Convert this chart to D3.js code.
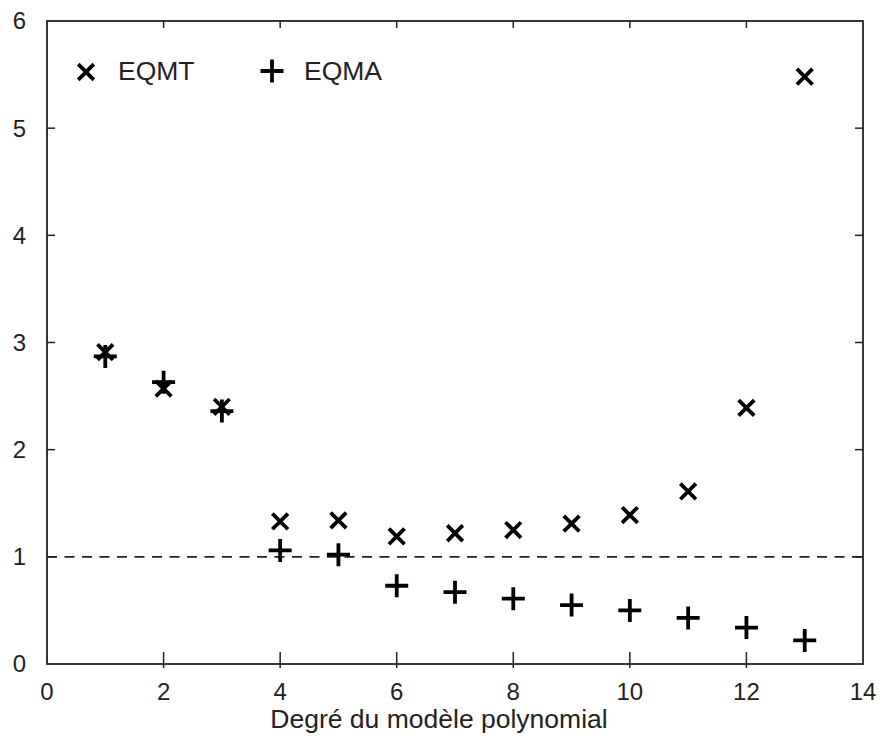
<!DOCTYPE html>
<html>
<head>
<meta charset="utf-8">
<script src="https://cdn.jsdelivr.net/npm/d3@7"></script>
<style>
  body { margin: 0; background: #fff; }
  text { font-family: "Liberation Sans", Arial, sans-serif; fill: #222; }
</style>
</head>
<body>
<script>
const degres = [1, 2, 3, 4, 5, 6, 7, 8, 9, 10, 11, 12, 13];
const eqmt = [2.91, 2.57, 2.40, 1.33, 1.34, 1.19, 1.22, 1.25, 1.31, 1.39, 1.61, 2.39, 5.48];
const eqma = [2.87, 2.63, 2.36, 1.06, 1.02, 0.73, 0.67, 0.61, 0.55, 0.50, 0.43, 0.34, 0.22];
const xTicks = [0, 2, 4, 6, 8, 10, 12, 14];
const yTicks = [0, 1, 2, 3, 4, 5, 6];
const seuil = 1;

const W = 880, H = 740;
const pL = 47, pR = 863, pT = 21, pB = 664;

const svg = d3.select("body").append("svg")
    .attr("width", W)
    .attr("height", H);

const x = d3.scaleLinear().domain([0, 14]).range([pL, pR]);
const y = d3.scaleLinear().domain([0, 6]).range([pB, pT]);

// ticks (inward, on all four sides)
const tk = svg.append("g").attr("stroke", "#222").attr("stroke-width", 1.5);
xTicks.slice(1, -1).forEach(t => {
    tk.append("line").attr("x1", x(t)).attr("x2", x(t)).attr("y1", pB + 4).attr("y2", pB - 12);
    tk.append("line").attr("x1", x(t)).attr("x2", x(t)).attr("y1", pT).attr("y2", pT + 7);
});
yTicks.slice(1, -1).forEach(t => {
    tk.append("line").attr("x1", pL).attr("x2", pL + 8).attr("y1", y(t)).attr("y2", y(t));
    tk.append("line").attr("x1", pR).attr("x2", pR - 8).attr("y1", y(t)).attr("y2", y(t));
});

// frame
svg.append("rect")
    .attr("x", pL).attr("y", pT)
    .attr("width", pR - pL).attr("height", pB - pT)
    .attr("fill", "none").attr("stroke", "#222").attr("stroke-width", 1.8);

// tick labels
svg.append("g").selectAll("text").data(xTicks).join("text")
    .attr("x", d => x(d)).attr("y", 700)
    .attr("text-anchor", "middle")
    .attr("font-size", 24)
    .text(d => d);

svg.append("g").selectAll("text").data(yTicks).join("text")
    .attr("x", 26).attr("y", d => y(d))
    .attr("dy", "0.35em")
    .attr("text-anchor", "end")
    .attr("font-size", 24)
    .text(d => d);

svg.append("text")
    .attr("x", 439).attr("y", 728)
    .attr("text-anchor", "middle")
    .attr("font-size", 26.5)
    .text("Degré du modèle polynomial");

// dashed line at 1
svg.append("line")
    .attr("x1", x(0)).attr("x2", x(14))
    .attr("y1", y(seuil)).attr("y2", y(seuil))
    .attr("stroke", "#222").attr("stroke-width", 1.6)
    .attr("stroke-dasharray", "10,7.5");

const cross = s => `M${-s},${-s}L${s},${s}M${-s},${s}L${s},${-s}`;
const plus = s => `M${-s},0H${s}M0,${-s}V${s}`;

// EQMT (x)
svg.append("g").selectAll("path").data(degres).join("path")
    .attr("transform", (d, i) => `translate(${x(d)},${y(eqmt[i])})`)
    .attr("d", cross(7.8))
    .attr("stroke", "#000").attr("stroke-width", 3.8).attr("fill", "none");

// EQMA (+)
svg.append("g").selectAll("path").data(degres).join("path")
    .attr("transform", (d, i) => `translate(${x(d)},${y(eqma[i])})`)
    .attr("d", plus(11.5))
    .attr("stroke", "#000").attr("stroke-width", 3.8).attr("fill", "none");

// legend
svg.append("path").attr("transform", "translate(86,72)").attr("d", cross(7.8))
    .attr("stroke", "#000").attr("stroke-width", 3.8).attr("fill", "none");
svg.append("text").attr("x", 118).attr("y", 79.5).attr("font-size", 26.5).text("EQMT");
svg.append("path").attr("transform", "translate(272,71)").attr("d", plus(11.5))
    .attr("stroke", "#000").attr("stroke-width", 3.8).attr("fill", "none");
svg.append("text").attr("x", 304).attr("y", 79.5).attr("font-size", 26.5).text("EQMA");
</script>
</body>
</html>
